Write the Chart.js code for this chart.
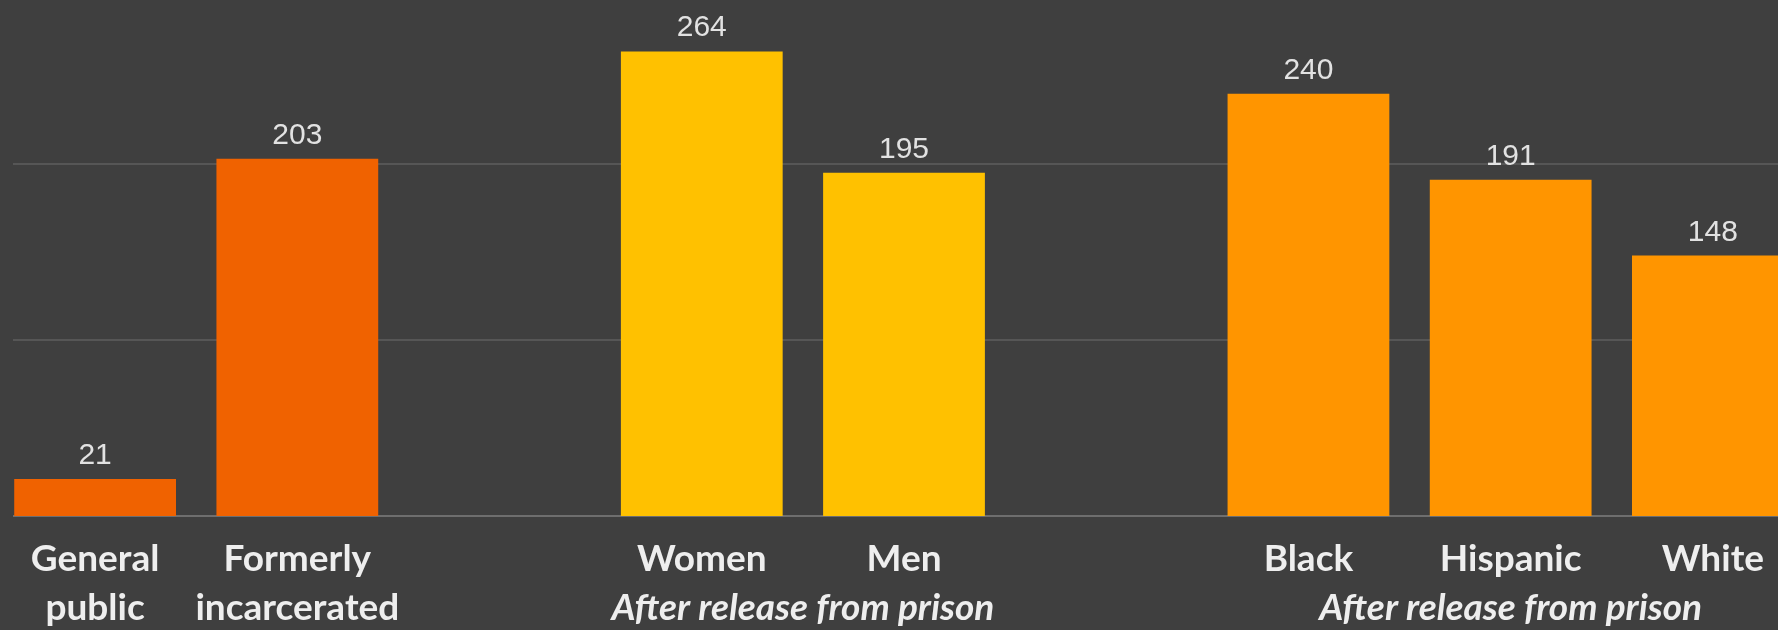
<!DOCTYPE html>
<html><head><meta charset="utf-8">
<script src="https://cdn.jsdelivr.net/npm/chart.js@4/dist/chart.umd.min.js"></script>
<style>
html,body{margin:0;padding:0;background:#3f3f3f;overflow:hidden;width:1778px;height:630px;}
#wrap{position:absolute;left:-6px;top:0;width:1820px;height:630px;}
</style></head><body>
<div id="wrap"><canvas id="c"></canvas></div>
<script>
const categories = [['General','public'], ['Formerly','incarcerated'], '', 'Women', 'Men', '', 'Black', 'Hispanic', 'White'];
const values = [21, 203, null, 264, 195, null, 240, 191, 148];
const barColors = ['#f06200', '#f06200', '#000', '#ffc100', '#ffc100', '#000', '#ff9500', '#ff9500', '#ff9500'];
const gridValues = [100, 200];
const groupNotes = [
  {text: 'After release from prison', from: 3, to: 4},
  {text: 'After release from prison', from: 6, to: 8}
];

const LABEL_FONT = 'Lato';
const LABEL_SIZE = 37;
const LABEL_WEIGHT = 'bold';
const LABEL_LH = 49;
const TICK_PAD = 19;

const decor = {
  id: 'decor',
  beforeDatasetsDraw(chart) {
    const {ctx, chartArea, scales: {y}} = chart;
    ctx.save();
    ctx.lineWidth = 2;
    ctx.strokeStyle = '#565656';
    gridValues.forEach(v => {
      const py = Math.round(y.getPixelForValue(v));
      ctx.beginPath(); ctx.moveTo(19, py); ctx.lineTo(chartArea.right, py); ctx.stroke();
    });
    ctx.strokeStyle = '#6e6e6e';
    const p0 = Math.round(y.getPixelForValue(0));
    ctx.beginPath(); ctx.moveTo(19, p0); ctx.lineTo(chartArea.right, p0); ctx.stroke();
    ctx.restore();
  },
  afterDatasetsDraw(chart) {
    const {ctx} = chart;
    const meta = chart.getDatasetMeta(0);
    ctx.save();
    ctx.fillStyle = '#e2e2e2';
    ctx.font = '30px "Liberation Sans", Arial, sans-serif';
    ctx.textAlign = 'center';
    ctx.textBaseline = 'alphabetic';
    meta.data.forEach((bar, i) => {
      if (values[i] == null) return;
      ctx.fillText(String(values[i]), bar.x, bar.y - 15);
    });
    ctx.restore();
  },
  afterDraw(chart) {
    const {ctx, scales: {x}} = chart;
    ctx.save();
    ctx.fillStyle = '#eeeeee';
    ctx.font = 'italic ' + LABEL_WEIGHT + ' ' + LABEL_SIZE + 'px ' + LABEL_FONT;
    ctx.textAlign = 'center';
    ctx.textBaseline = 'middle';
    const yMid = x.top + TICK_PAD + LABEL_LH * 1.5;
    groupNotes.forEach(g => {
      const cx = (x.getPixelForValue(g.from) + x.getPixelForValue(g.to)) / 2;
      ctx.fillText(g.text, cx, yMid);
    });
    ctx.restore();
  }
};

new Chart(document.getElementById('c'), {
  type: 'bar',
  data: {
    labels: categories,
    datasets: [{
      data: values,
      backgroundColor: barColors,
      borderWidth: 0,
      categoryPercentage: 1.0,
      barPercentage: 0.8
    }]
  },
  options: {
    responsive: true,
    maintainAspectRatio: false,
    animation: false,
    layout: {padding: 0},
    plugins: {legend: {display: false}, tooltip: {enabled: false}},
    scales: {
      x: {
        grid: {display: false, drawTicks: false},
        border: {display: false},
        ticks: {
          color: '#eeeeee',
          font: {family: LABEL_FONT, size: LABEL_SIZE, weight: LABEL_WEIGHT, lineHeight: LABEL_LH / LABEL_SIZE},
          padding: TICK_PAD,
          maxRotation: 0,
          minRotation: 0,
          autoSkip: false
        },
        afterFit(scale) { scale.height = 114; }
      },
      y: {display: false, min: 0, max: 293.2}
    }
  },
  plugins: [decor]
});
</script>
</body></html>
